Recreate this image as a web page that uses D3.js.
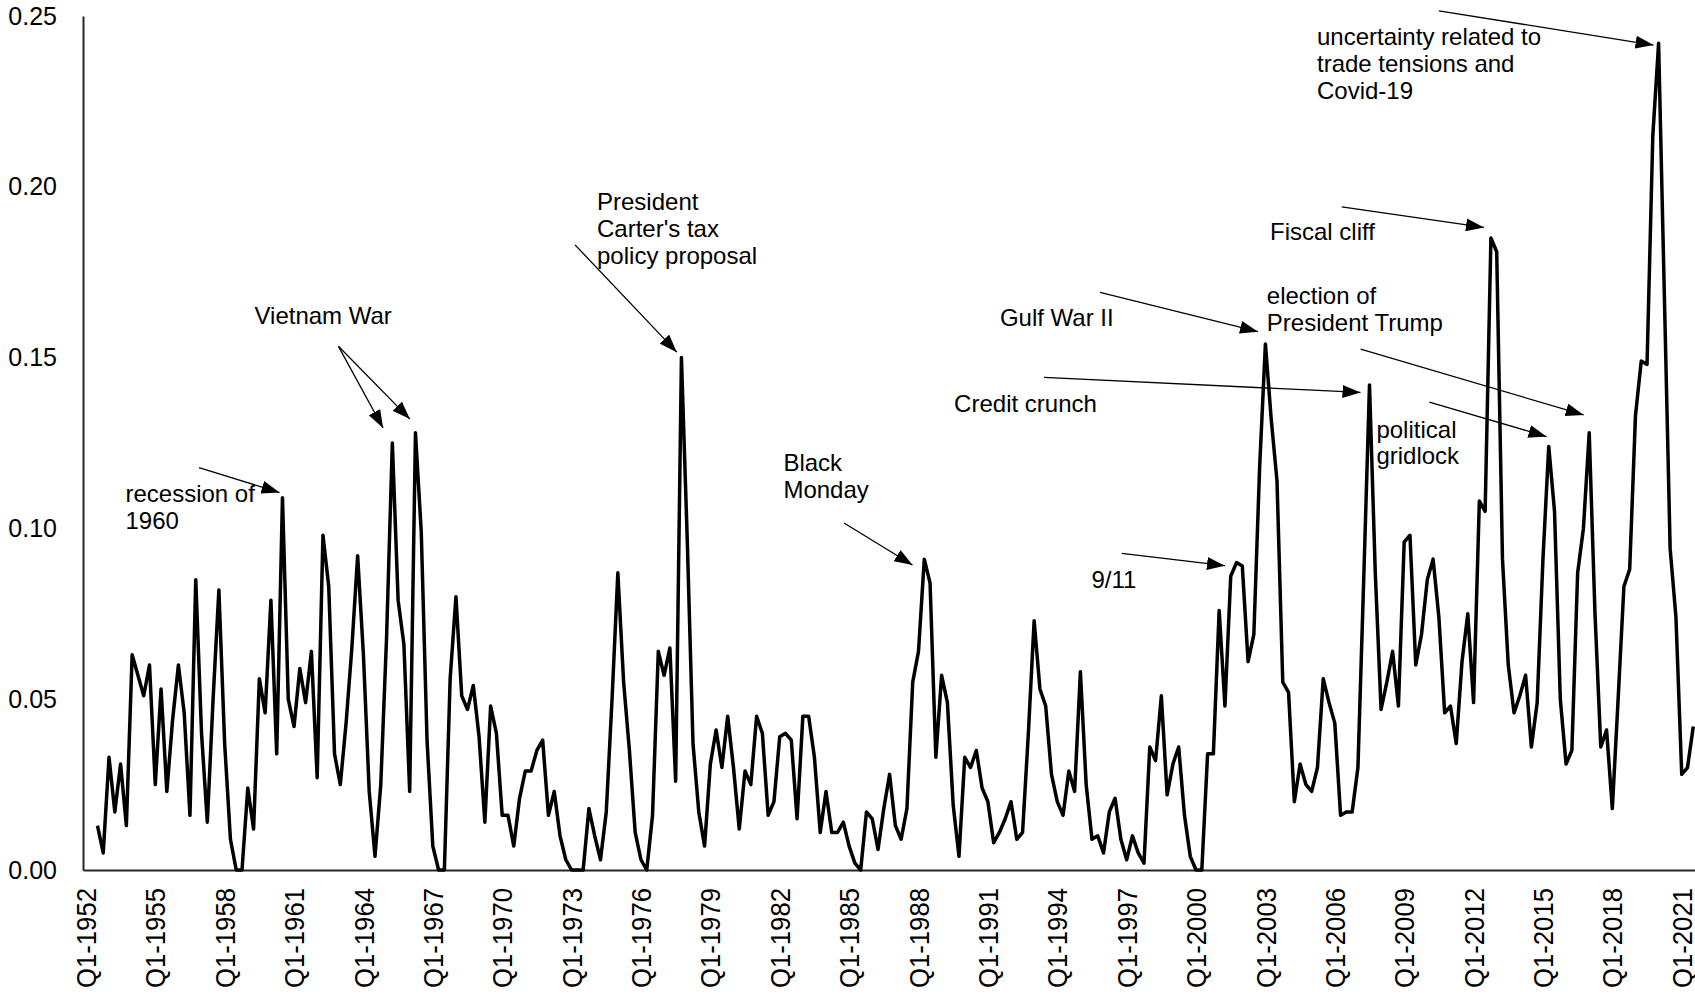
<!DOCTYPE html>
<html>
<head>
<meta charset="utf-8">
<script src="https://cdn.jsdelivr.net/npm/d3@7"></script>
<style>
  html, body { margin: 0; padding: 0; background: #fff; }
  svg { display: block; }
  text { font-family: "Liberation Sans", Arial, Helvetica, sans-serif; fill: #000; }
</style>
</head>
<body>
<svg id="chart" width="1695" height="997"></svg>
<script>
// Quarterly index, Q3-1952 through Q3-2021
const firstQuarter = "Q3-1952";
const indexValues = [
  0.013, 0.005, 0.033, 0.017, 0.031, 0.013, 0.063, 0.057, 0.051, 0.060,
  0.025, 0.053, 0.023, 0.044, 0.060, 0.046, 0.016, 0.085, 0.040, 0.014,
  0.050, 0.082, 0.037, 0.009, 0.000, 0.000, 0.024, 0.012, 0.056, 0.046,
  0.079, 0.034, 0.109, 0.050, 0.042, 0.059, 0.049, 0.064, 0.027, 0.098,
  0.083, 0.034, 0.025, 0.043, 0.065, 0.092, 0.063, 0.023, 0.004, 0.025,
  0.068, 0.125, 0.079, 0.066, 0.023, 0.128, 0.099, 0.038, 0.007, 0.000,
  0.000, 0.056, 0.080, 0.051, 0.047, 0.054, 0.039, 0.014, 0.048, 0.040,
  0.016, 0.016, 0.007, 0.021, 0.029, 0.029, 0.035, 0.038, 0.016, 0.023,
  0.010, 0.003, 0.000, 0.000, 0.000, 0.018, 0.010, 0.003, 0.017, 0.050,
  0.087, 0.055, 0.035, 0.011, 0.003, 0.000, 0.016, 0.064, 0.057, 0.065,
  0.026, 0.150, 0.097, 0.037, 0.017, 0.007, 0.031, 0.041, 0.030, 0.045,
  0.030, 0.012, 0.029, 0.025, 0.045, 0.040, 0.016, 0.020, 0.039, 0.040,
  0.038, 0.015, 0.045, 0.045, 0.033, 0.011, 0.023, 0.011, 0.011, 0.014,
  0.007, 0.002, 0.000, 0.017, 0.015, 0.006, 0.018, 0.028, 0.013, 0.009,
  0.018, 0.055, 0.064, 0.091, 0.084, 0.033, 0.057, 0.049, 0.019, 0.004,
  0.033, 0.030, 0.035, 0.024, 0.020, 0.008, 0.011, 0.015, 0.020, 0.009,
  0.011, 0.040, 0.073, 0.053, 0.048, 0.028, 0.020, 0.016, 0.029, 0.023,
  0.058, 0.025, 0.009, 0.010, 0.005, 0.017, 0.021, 0.009, 0.003, 0.010,
  0.005, 0.002, 0.036, 0.032, 0.051, 0.022, 0.031, 0.036, 0.016, 0.004,
  0.000, 0.000, 0.034, 0.034, 0.076, 0.048, 0.086, 0.090, 0.089, 0.061,
  0.069, 0.118, 0.154, 0.132, 0.114, 0.055, 0.052, 0.020, 0.031, 0.025,
  0.023, 0.030, 0.056, 0.049, 0.043, 0.016, 0.017, 0.017, 0.030, 0.085,
  0.142, 0.087, 0.047, 0.055, 0.064, 0.048, 0.096, 0.098, 0.060, 0.069,
  0.085, 0.091, 0.074, 0.046, 0.048, 0.037, 0.061, 0.075, 0.049, 0.108,
  0.105, 0.185, 0.181, 0.091, 0.060, 0.046, 0.051, 0.057, 0.036, 0.049,
  0.091, 0.124, 0.105, 0.050, 0.031, 0.035, 0.087, 0.100, 0.128, 0.075,
  0.036, 0.041, 0.018, 0.050, 0.083, 0.088, 0.133, 0.149, 0.148, 0.215,
  0.242, 0.168, 0.094, 0.074, 0.028, 0.030, 0.042
];

// Category axis: every quarter from Q1-1952 to Q3-2021, labelled every third year
const firstYear = 1952, lastYear = 2021, lastQuarterOfLastYear = 3;
const xTickLabels = [
  "Q1-1952", "Q1-1955", "Q1-1958", "Q1-1961", "Q1-1964", "Q1-1967", "Q1-1970",
  "Q1-1973", "Q1-1976", "Q1-1979", "Q1-1982", "Q1-1985", "Q1-1988", "Q1-1991",
  "Q1-1994", "Q1-1997", "Q1-2000", "Q1-2003", "Q1-2006", "Q1-2009", "Q1-2012",
  "Q1-2015", "Q1-2018", "Q1-2021"
];
const yTicks = [0, 0.05, 0.10, 0.15, 0.20, 0.25];

// Event annotations: text anchor and arrows, placed in (decimal year, index value)
const eventNotes = [
  { lines: ["recession of", "1960"], at: [1953.71, 0.1077],
    arrows: [[[1956.89, 0.1178], [1960.37, 0.1105]]] },
  { lines: ["Vietnam War"], at: [1959.29, 0.1598],
    arrows: [[[1962.92, 0.1533], [1964.85, 0.1294]],
             [[1962.92, 0.1533], [1966.01, 0.1320]]] },
  { lines: ["President", "Carter's tax", "policy proposal"], at: [1974.10, 0.1932],
    arrows: [[[1973.15, 0.1830], [1977.55, 0.1516]]] },
  { lines: ["Black", "Monday"], at: [1982.16, 0.1168],
    arrows: [[[1984.78, 0.1016], [1987.74, 0.0893]]] },
  { lines: ["Gulf War II"], at: [1991.52, 0.1593],
    arrows: [[[1995.85, 0.1691], [2002.68, 0.1576]]] },
  { lines: ["Credit crunch"], at: [1989.54, 0.1341],
    arrows: [[[1993.43, 0.1442], [2007.11, 0.1398]]] },
  { lines: ["9/11"], at: [1995.48, 0.0826],
    arrows: [[[1996.79, 0.0927], [2001.25, 0.0891]]] },
  { lines: ["uncertainty related to", "trade tensions and", "Covid-19"], at: [2005.23, 0.2415],
    arrows: [[[2010.50, 0.2515], [2019.78, 0.2415]]] },
  { lines: ["Fiscal cliff"], at: [2003.20, 0.1843],
    arrows: [[[2006.30, 0.1941], [2012.45, 0.1881]]] },
  { lines: ["election of", "President Trump"], at: [2003.06, 0.1657],
    arrows: [[[2007.12, 0.1525], [2016.76, 0.1332]]] },
  { lines: ["political", "gridlock"], at: [2007.80, 0.1266],
    arrows: [[[2010.09, 0.1370], [2015.15, 0.1269]]] }
];

// ---- build the quarter list ----
const quarters = [];
for (let yr = firstYear; yr <= lastYear; yr++) {
  const qMax = yr === lastYear ? lastQuarterOfLastYear : 4;
  for (let q = 1; q <= qMax; q++) quarters.push(`Q${q}-${yr}`);
}
const startIdx = quarters.indexOf(firstQuarter);
const series = indexValues.map((v, i) => ({ quarter: quarters[startIdx + i], value: v }));

// ---- layout ----
const plotLeft = 83, plotTop = 16, plotBottom = 870, quarterWidth = 5.782;
const svg = d3.select("#chart");

const x = d3.scaleBand()
  .domain(quarters)
  .range([plotLeft, plotLeft + quarters.length * quarterWidth])
  .paddingInner(0).paddingOuter(0);
const y = d3.scaleLinear().domain([0, 0.25]).range([plotBottom, plotTop]);

// decimal-year position along the category axis (quarter centres)
const xYear = d3.scaleLinear()
  .domain([firstYear, firstYear + 0.25])
  .range([x(quarters[0]) + x.bandwidth() / 2, x(quarters[1]) + x.bandwidth() / 2]);

// ---- axes ----
const yAxis = d3.axisLeft(y)
  .tickValues(yTicks)
  .tickFormat(d3.format(".2f"))
  .tickSize(0)
  .tickPadding(26);
const gy = svg.append("g").attr("transform", `translate(${plotLeft},0)`).call(yAxis);
gy.select(".domain").attr("stroke", "#262626").attr("stroke-width", 2);
gy.selectAll(".tick text")
  .attr("font-size", 25)
  .attr("font-family", "Liberation Sans, Arial, sans-serif")
  .attr("fill", "#000");

// rotated quarter labels, set in a narrow face
const xAxis = d3.axisBottom(x).tickValues(xTickLabels).tickSize(0).tickSizeOuter(0);
const gx = svg.append("g").attr("transform", `translate(0,${plotBottom})`).call(xAxis);
gx.select(".domain").attr("stroke", "#262626").attr("stroke-width", 2);
gx.selectAll(".tick text")
  .attr("font-size", 28)
  .attr("font-family", "Liberation Sans, Arial, sans-serif")
  .attr("fill", "#000")
  .attr("text-anchor", "end")
  .attr("y", 0)
  .attr("dy", "0.36em")
  .attr("textLength", 100)
  .attr("lengthAdjust", "spacingAndGlyphs")
  .attr("transform", "translate(0,18) rotate(-90)");

// ---- the series line ----
const line = d3.line()
  .x(d => x(d.quarter) + x.bandwidth() / 2)
  .y(d => y(d.value));

svg.append("path")
  .datum(series)
  .attr("fill", "none")
  .attr("stroke", "#000")
  .attr("stroke-width", 3.5)
  .attr("stroke-linejoin", "round")
  .attr("d", line);

// ---- annotations ----
svg.append("defs").append("marker")
  .attr("id", "arrowhead")
  .attr("markerUnits", "userSpaceOnUse")
  .attr("markerWidth", 19)
  .attr("markerHeight", 13)
  .attr("refX", 18)
  .attr("refY", 6.5)
  .attr("orient", "auto")
  .append("path")
  .attr("d", "M0,0 L18,6.5 L0,13 Z")
  .attr("fill", "#000");

const notes = svg.append("g").attr("class", "notes");
eventNotes.forEach(n => {
  n.arrows.forEach(([from, to]) => {
    notes.append("line")
      .attr("x1", xYear(from[0])).attr("y1", y(from[1]))
      .attr("x2", xYear(to[0])).attr("y2", y(to[1]))
      .attr("stroke", "#000")
      .attr("stroke-width", 1.3)
      .attr("marker-end", "url(#arrowhead)");
  });
  const t = notes.append("text")
    .attr("x", xYear(n.at[0]))
    .attr("y", y(n.at[1]))
    .attr("font-size", 24);
  n.lines.forEach((s, i) => {
    t.append("tspan")
      .attr("x", xYear(n.at[0]))
      .attr("dy", i === 0 ? 0 : 26.8)
      .text(s);
  });
});
</script>
</body>
</html>
